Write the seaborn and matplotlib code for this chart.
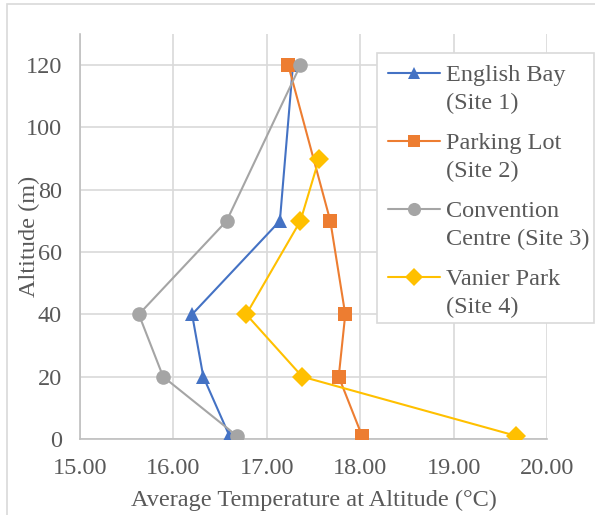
import matplotlib
matplotlib.use("Agg")
import matplotlib.pyplot as plt
import seaborn as sns
import pandas as pd
from matplotlib.lines import Line2D
from matplotlib.patches import Rectangle

# Average temperature (°C) measured at each altitude (m) for four sites
site_names = [["English Bay", "(Site 1)"], ["Parking Lot", "(Site 2)"],
              ["Convention", "Centre (Site 3)"], ["Vanier Park", "(Site 4)"]]
english_bay_alt = [120, 70, 40, 20, 1]
english_bay_temp = [17.28, 17.14, 16.20, 16.32, 16.60]
parking_lot_alt = [120, 70, 40, 20, 1]
parking_lot_temp = [17.23, 17.68, 17.84, 17.77, 18.02]
convention_alt = [120, 70, 40, 20, 1]
convention_temp = [17.36, 16.57, 15.63, 15.89, 16.68]
vanier_alt = [90, 70, 40, 20, 1]
vanier_temp = [17.56, 17.36, 16.78, 17.38, 19.67]

x_ticks = [15, 16, 17, 18, 19, 20]
y_ticks = [0, 20, 40, 60, 80, 100, 120]

colors = ["#4472C4", "#ED7D31", "#A5A5A5", "#FFC000"]
markers = ["^", "s", "o", "D"]
msizes = [10, 10, 10.5, 10]

sns.set_theme(style="white")
plt.rcParams["font.family"] = ["Liberation Serif", "DejaVu Serif"]
text_color = "#595959"
fs = 17.5

W, H = 595, 515
fig = plt.figure(figsize=(W / 100, H / 100), dpi=100)
ax = fig.add_axes([80 / W, 1 - 439 / H, (547 - 80) / W, (439 - 34) / H])

series = [
    (english_bay_temp, english_bay_alt),
    (parking_lot_temp, parking_lot_alt),
    (convention_temp, convention_alt),
    (vanier_temp, vanier_alt),
]
for (temps, alts), c, m, ms in zip(series, colors, markers, msizes):
    df = pd.DataFrame({"temp": temps, "alt": alts})
    sns.lineplot(data=df, x="temp", y="alt", sort=False, ax=ax, color=c,
                 marker=m, markersize=ms, markeredgewidth=0, linewidth=1.5,
                 zorder=3)

ax.set_xlim(15, 20)
ax.set_ylim(0, 130)
ax.set_xticks(x_ticks)
ax.set_xticklabels([f"{v:.2f}" for v in x_ticks])
ax.set_yticks(y_ticks)
ax.grid(True, color="#D9D9D9", linewidth=1.2)
ax.set_axisbelow(True)
for side in ["top", "right"]:
    ax.spines[side].set_visible(False)
for side in ["left", "bottom"]:
    ax.spines[side].set_color("#BFBFBF")
    ax.spines[side].set_linewidth(1.2)
ax.tick_params(axis="both", length=0, labelsize=fs, labelcolor=text_color)
ax.tick_params(axis="x", pad=14)
ax.tick_params(axis="y", pad=13)

ax.set_xlabel("Average Temperature at Altitude (°C)", fontsize=fs, color=text_color)
ax.set_ylabel("Altitude (m)", fontsize=fs, color=text_color)
ax.xaxis.set_label_coords(0.5, -0.126)
ax.yaxis.set_label_coords(-0.086, 0.5)
ax.yaxis.label.set_zorder(5)

# Legend panel, drawn in figure pixel coordinates
def fx(px):
    return px / W

def fy(py):
    return 1 - py / H

fig.patches.append(Rectangle((fx(377), fy(323)), fx(594) - fx(377), fy(53) - fy(323),
                             transform=fig.transFigure, facecolor="white",
                             edgecolor="#D9D9D9", linewidth=1.2, zorder=10))
row_y = [73, 141, 209, 277]
for (line1, line2), c, m, ms, y in zip(site_names, colors, markers, msizes, row_y):
    fig.lines.append(Line2D([fx(388), fx(440)], [fy(y), fy(y)],
                            transform=fig.transFigure, color=c, linewidth=1.5,
                            zorder=11))
    fig.lines.append(Line2D([fx(414)], [fy(y)], transform=fig.transFigure,
                            color=c, marker=m, markersize=ms * 0.9,
                            markeredgewidth=0, linestyle="none", zorder=12))
    fig.text(fx(446), fy(y), line1, fontsize=fs, color=text_color,
             va="center_baseline", ha="left", zorder=12)
    fig.text(fx(446), fy(y + 28), line2, fontsize=fs, color=text_color,
             va="center_baseline", ha="left", zorder=12)

# Outer chart border
fig.patches.append(Rectangle((7 / W, -0.05), 1.2, 1 - 4 / H + 0.05,
                             transform=fig.transFigure, fill=False,
                             edgecolor="#D9D9D9", linewidth=1.2))

fig.savefig("out.png", dpi=100)
